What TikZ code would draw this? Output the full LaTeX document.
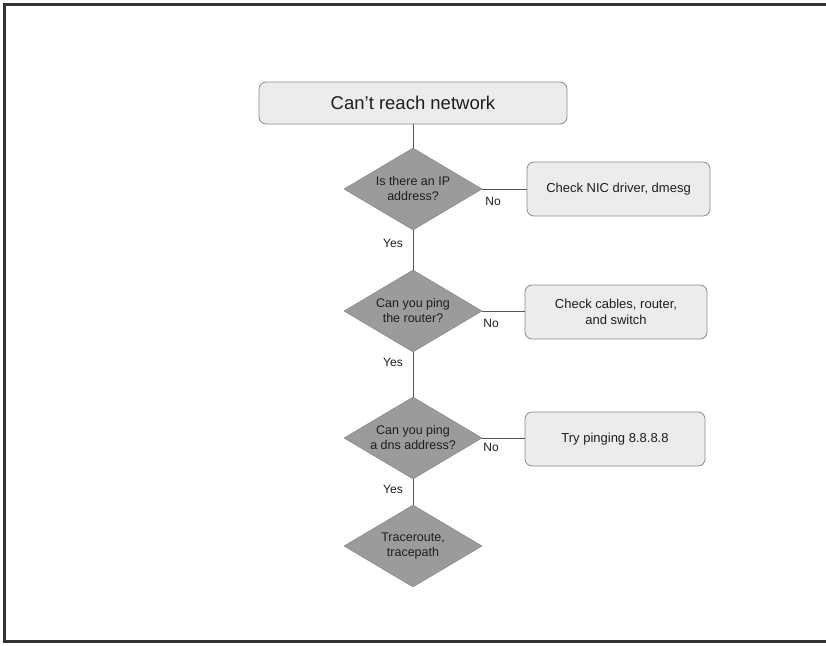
\documentclass[tikz,border=0pt]{standalone}
\usepackage{fontspec}
\setmainfont{Liberation Sans}
\usetikzlibrary{shapes.geometric}
\definecolor{dfill}{HTML}{9B9B9B}
\definecolor{dline}{HTML}{8A8A8A}
\definecolor{bfill}{HTML}{ECECEC}
\definecolor{bline}{HTML}{8C8C8C}
\definecolor{conn}{HTML}{555555}
\definecolor{txt}{HTML}{1E1E1E}
\begin{document}
\begin{tikzpicture}[x=1pt,y=-1pt,
  decision/.style={shape=diamond, fill=dfill, draw=dline, line width=0.6pt, inner sep=0pt,
    minimum width=138pt, minimum height=82pt, aspect=1.68, align=center, text=txt,
    font=\fontsize{12.5}{15}\selectfont},
  action/.style={rectangle, rounded corners=7pt, fill=bfill, draw=bline, line width=0.8pt,
    align=center, text=txt, font=\fontsize{13}{16}\selectfont},
  conn/.style={draw=conn, line width=0.9pt},
  lbl/.style={text=txt, font=\fontsize{12}{14}\selectfont, inner sep=0pt}]
\useasboundingbox (0,0) rectangle (826,645);
\fill[white] (0,0) rectangle (826,645);
\draw[line width=3pt, color=black!80] (830,4) -- (4,4) -- (4,641) -- (830,641);

\node[action, minimum width=308pt, minimum height=42pt, font=\fontsize{18.5}{22}\selectfont] (start) at (413,103) {Can't reach network};

\node[decision] (d1) at (413,189) {Is there an IP\\address?};
\node[decision] (d2) at (413,311) {Can you ping\\the router?};
\node[decision] (d3) at (413,438) {Can you ping\\a dns address?};
\node[decision] (d4) at (413,546) {Traceroute,\\tracepath};

\node[action, minimum width=183pt, minimum height=54pt] (b1) at (618.5,189) {Check NIC driver, dmesg};
\node[action, minimum width=182pt, minimum height=54pt] (b2) at (616,312) {Check cables, router,\\and switch};
\node[action, minimum width=180pt, minimum height=54pt] (b3) at (615,439) {Try pinging 8.8.8.8};

\draw[conn] (start.south) -- (d1.north);
\draw[conn] (d1.south) -- (d2.north);
\draw[conn] (d2.south) -- (d3.north);
\draw[conn] (d3.south) -- (d4.north);
\draw[conn] (d1.east) -- (d1.east -| b1.west);
\draw[conn] (d2.east) -- (d2.east -| b2.west);
\draw[conn] (d3.east) -- (d3.east -| b3.west);

\node[lbl] (n1) at (493,201) {No};
\node[lbl] (n2) at (491,323) {No};
\node[lbl] (n3) at (491,447) {No};
\node[lbl] (y1) at (393,243) {Yes};
\node[lbl] (y2) at (393,362) {Yes};
\node[lbl] (y3) at (393,489) {Yes};
\end{tikzpicture}
\end{document}
